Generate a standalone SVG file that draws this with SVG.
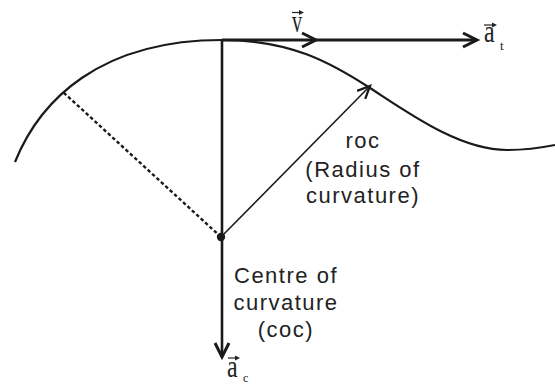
<svg xmlns="http://www.w3.org/2000/svg" width="555" height="385" viewBox="0 0 555 385">
<style>
.ln{fill:none;stroke:#1a1a1a;stroke-linecap:butt}
.lbl{font-family:"Liberation Sans",Arial,sans-serif;font-size:22px;letter-spacing:1.5px;fill:#222;text-anchor:middle}
.sym{font-family:"Liberation Serif","Times New Roman",serif;fill:#222}
.acc{fill:none;stroke:#222;stroke-width:1.2}
.acch{fill:#222;stroke:none}
</style>
<defs>
<marker id="chev" markerUnits="userSpaceOnUse" markerWidth="20" markerHeight="20" refX="15" refY="8" orient="auto" viewBox="0 0 20 16">
<path d="M1,1 L15,8 L1,15" fill="none" stroke="#1a1a1a" stroke-width="3" stroke-linejoin="miter"/>
</marker>
<marker id="chevs" markerUnits="userSpaceOnUse" markerWidth="16" markerHeight="14" refX="12" refY="6" orient="auto" viewBox="0 0 14 12">
<path d="M1,1 L12,6 L1,11" fill="none" stroke="#1a1a1a" stroke-width="2" stroke-linejoin="miter"/>
</marker>
</defs>

<g id="curve">
<path class="ln" stroke-width="2.2" d="M15,162 C40,100 100,40 222,40 C290,40 330,62 370,88 C410,114 460,150 507,150 C525,150 540,148 555,145"/>
</g>

<g id="connectors">
<line class="ln" x1="221" y1="237" x2="63" y2="92" stroke-width="2.4" stroke-dasharray="3.5,2.5"/>
<line class="ln" x1="222" y1="40" x2="316" y2="40" stroke-width="3" marker-end="url(#chev)"/>
<line class="ln" x1="316" y1="40" x2="477" y2="40" stroke-width="3" marker-end="url(#chev)"/>
<line class="ln" x1="222" y1="40" x2="222" y2="357" stroke-width="2.6" marker-end="url(#chev)"/>
<line class="ln" x1="221" y1="237" x2="370" y2="86" stroke-width="1.6" marker-end="url(#chevs)"/>
</g>

<g id="coc">
<circle cx="221" cy="237" r="4.2" fill="#1a1a1a"/>
<text class="lbl" x="286" y="283">Centre of</text>
<text class="lbl" x="286" y="310">curvature</text>
<text class="lbl" x="286" y="337">(coc)</text>
</g>

<g id="roc">
<text class="lbl" x="363" y="148">roc</text>
<text class="lbl" x="363" y="177">(Radius of</text>
<text class="lbl" x="363" y="203">curvature)</text>
</g>

<g id="v-label">
<text class="sym" font-size="20" transform="matrix(1,0,0,1.6,292,32)">v</text>
<line class="acc" x1="292" y1="12.5" x2="301" y2="12.5"/>
<path class="acch" d="M304,12.5 L299,10 L299,15 Z"/>
</g>

<g id="at-label">
<text class="sym" font-size="24" transform="matrix(1,0,0,1.3,484,42)">a</text>
<text class="sym" font-size="13" x="500" y="50">t</text>
<line class="acc" x1="484" y1="25" x2="494" y2="25"/>
<path class="acch" d="M497,25 L492,22.5 L492,27.5 Z"/>
</g>

<g id="ac-label">
<text class="sym" font-size="24" transform="matrix(1,0,0,1.3,227,377)">a</text>
<text class="sym" font-size="12" x="243" y="382">c</text>
<line class="acc" x1="228" y1="358" x2="237" y2="358"/>
<path class="acch" d="M240,358 L235,355.5 L235,360.5 Z"/>
</g>
</svg>
